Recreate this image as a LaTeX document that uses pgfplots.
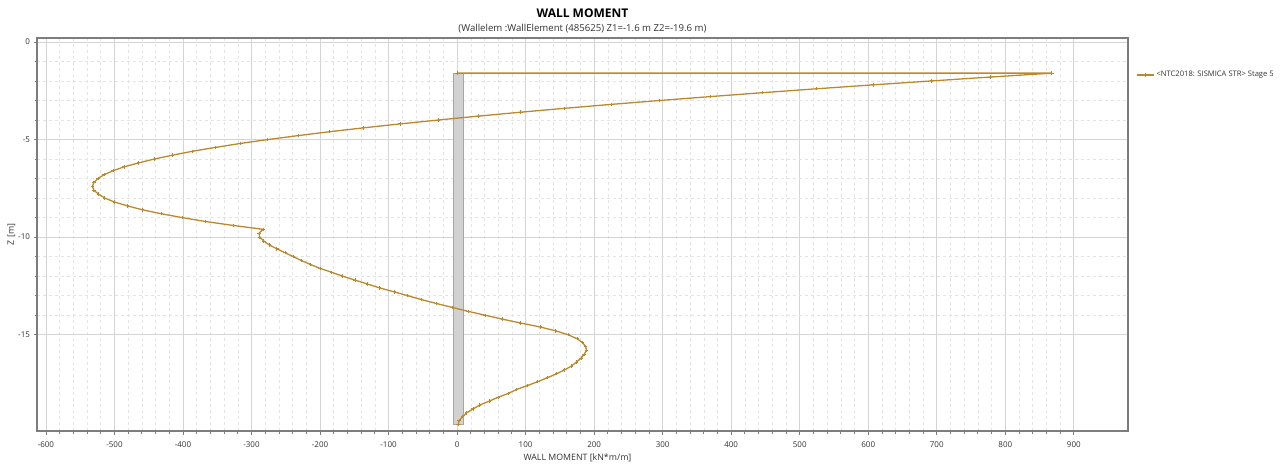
\documentclass[border=0pt]{standalone}
\usepackage{fontspec}
\setmainfont{Open Sans}
\usepackage{pgfplots}
\pgfplotsset{compat=1.18}
\definecolor{curve}{RGB}{186,137,46}
\definecolor{frame}{RGB}{125,125,125}
\definecolor{majgrid}{RGB}{212,212,212}
\definecolor{mingrid}{RGB}{228,228,228}
\definecolor{txt}{RGB}{50,50,50}
\begin{document}
\begin{tikzpicture}
\useasboundingbox (-37pt,-33pt) rectangle (1249pt,431pt);
\begin{axis}[
  at={(0,0)}, anchor=south west,
  scale only axis, width=1091pt, height=393pt,
  xmin=-613, xmax=979, ymin=-19.93, ymax=0.2,
  xtick={-600,-500,...,900}, ytick={0,-5,-10,-15},
  minor x tick num=4, minor y tick num=4,
  tick pos=left, tick align=outside,
  major tick length=3.5pt, minor tick length=2.5pt,
  every tick/.style={frame, line width=0.8pt},
  grid=both,
  major grid style={majgrid, line width=0.7pt},
  minor grid style={mingrid, dashed, line width=0.5pt},
  axis line style={frame, line width=1.3pt},
  /pgf/number format/assume math mode=true,
  ticklabel style={font=\fontsize{8}{9}\selectfont, text=txt},
  xticklabel style={yshift=-4pt},
  xlabel={WALL MOMENT [kN*m/m]},
  ylabel={Z [m]},
  label style={font=\fontsize{8.8}{10}\selectfont, text=txt},
  xlabel style={yshift=1pt, xshift=-5pt},
  ylabel style={yshift=-4pt},
  clip=false,
  legend style={at={(rel axis cs:1,0.906)}, anchor=west, xshift=7pt, draw=none, fill=none,
    font=\fontsize{7.6}{9}\selectfont, text=txt, inner sep=1pt},
  legend cell align=left,
]
\addplot[fill=black!18, draw=black!35, line width=0.6pt, forget plot] coordinates {(-6,-1.6) (9,-1.6) (9,-19.6) (-6,-19.6)} -- cycle;
\addplot[curve, line width=1.3pt, mark=+, mark size=1.7pt, mark options={line width=0.9pt}] coordinates {
(0,-1.6) (868,-1.6) (778,-1.8) (692,-2.0) (607,-2.2) (525,-2.4) (446,-2.6) (370,-2.8)
(296,-3.0) (225,-3.2) (157,-3.4) (93,-3.6) (31,-3.8) (-27,-4.0) (-83,-4.2) (-136,-4.4)
(-186,-4.6) (-232,-4.8) (-276,-5.0) (-316,-5.2) (-352,-5.4) (-386,-5.6) (-415,-5.8)
(-442,-6.0) (-465,-6.2) (-486,-6.4) (-502,-6.6) (-515,-6.8) (-524,-7.0) (-530,-7.2)
(-532,-7.4) (-530,-7.6) (-523,-7.8) (-514,-8.0) (-500,-8.2) (-481,-8.4) (-459,-8.6)
(-432,-8.8) (-401,-9.0) (-367,-9.2) (-327,-9.4) (-283,-9.6) (-289,-9.8) (-288,-10.0)
(-282,-10.2) (-274,-10.4) (-263,-10.6) (-251,-10.8) (-239,-11.0) (-227,-11.2) (-214,-11.4)
(-200,-11.6) (-183,-11.8) (-167,-12.0) (-149,-12.2) (-131,-12.4) (-113,-12.6) (-92,-12.8)
(-72,-13.0) (-52,-13.2) (-30,-13.4) (-7,-13.6) (16,-13.8) (41,-14.0) (66,-14.2) (93,-14.4)
(121,-14.6) (144,-14.8) (162,-15.0) (175,-15.2) (183,-15.4) (187.5,-15.6) (189,-15.8)
(185.5,-16.0) (181,-16.2) (174,-16.4) (167,-16.6) (157,-16.8) (145,-17.0) (132,-17.2)
(118,-17.4) (103,-17.6) (87,-17.8) (75,-18.0) (60,-18.2) (47,-18.4) (33,-18.6)
(23.5,-18.8) (14,-19.0) (8,-19.2) (3,-19.4) (1.5,-19.6)
};
\addlegendentry{<NTC2018: SISMICA STR> Stage 5}
\node[font=\fontsize{12}{14}\bfseries, anchor=center] at (rel axis cs:0.5,1) [yshift=24.5pt] {WALL MOMENT};
\node[font=\fontsize{9.6}{11}\selectfont, text=txt, anchor=center] at (rel axis cs:0.5,1) [yshift=9.5pt] {(Wallelem :WallElement (485625) Z1=-1.6 m Z2=-19.6 m)};
\end{axis}
\end{tikzpicture}
\end{document}
